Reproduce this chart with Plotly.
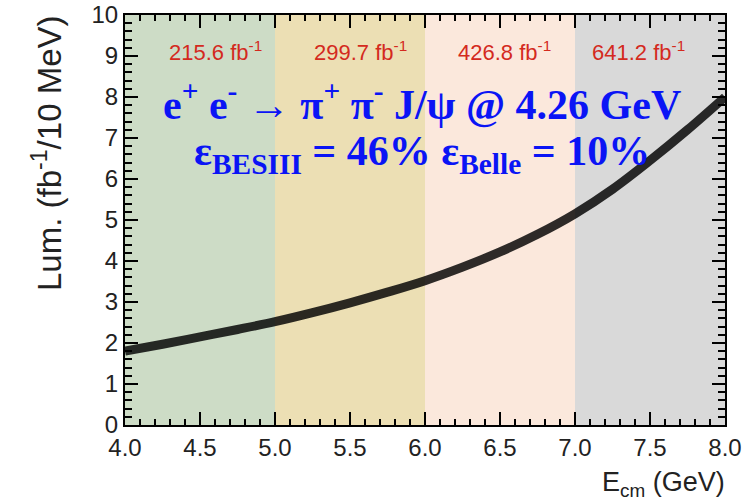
import plotly.graph_objects as go

# Data
ecm = [4.0, 4.25, 4.5, 4.75, 5.0, 5.25, 5.5, 5.75, 6.0, 6.25, 6.5, 6.75, 7.0, 7.25, 7.5, 7.75, 8.0]
lumi = [1.80, 1.97, 2.15, 2.33, 2.52, 2.74, 2.98, 3.24, 3.52, 3.85, 4.22, 4.65, 5.15, 5.75, 6.45, 7.20, 8.0]
band_edges = [4.0, 5.0, 6.0, 7.0, 8.0]
band_labels = ["215.6 fb<sup>-1</sup>", "299.7 fb<sup>-1</sup>", "426.8 fb<sup>-1</sup>", "641.2 fb<sup>-1</sup>"]
x_ticks = [4.0, 4.5, 5.0, 5.5, 6.0, 6.5, 7.0, 7.5, 8.0]
y_ticks = list(range(0, 11))

band_colors = ["#cddcc6", "#ecdfb4", "#fbe8dc", "#d9d9d9"]
label_x = [4.6, 5.57, 6.53, 7.42]

fig = go.Figure()
fig.add_trace(go.Scatter(
    x=ecm, y=lumi, mode="lines",
    line=dict(color="rgba(0,0,0,0.82)", width=9, shape="spline"),
    showlegend=False, hoverinfo="skip"))

for i in range(len(band_labels)):
    fig.add_shape(type="rect", xref="x", yref="paper",
                  x0=band_edges[i], x1=band_edges[i + 1], y0=0, y1=1,
                  fillcolor=band_colors[i], line=dict(width=0), layer="below")
    fig.add_annotation(x=label_x[i], y=9.12, xref="x", yref="y",
                       xanchor="center", yanchor="middle",
                       text=band_labels[i], showarrow=False,
                       font=dict(family="Liberation Sans", size=22, color="#d42a1e"))

fig.add_annotation(x=0.495, y=0.79, xref="paper", yref="paper", xanchor="center", yanchor="middle",
                   text="e<sup>+</sup> e<sup>-</sup> \u2192 \u03c0<sup>+</sup> \u03c0<sup>-</sup> J/\u03c8 @ 4.26 GeV",
                   showarrow=False,
                   font=dict(family="Liberation Serif", size=42, color="#0a14f5", weight="bold"))
fig.add_annotation(x=0.495, y=0.662, xref="paper", yref="paper", xanchor="center", yanchor="middle",
                   text="\u03b5<sub>BESIII</sub> = 46% \u03b5<sub>Belle</sub> = 10%",
                   showarrow=False,
                   font=dict(family="Liberation Serif", size=42, color="#0a14f5", weight="bold"))

# axis titles
fig.add_annotation(x=1.003, y=-0.097, xref="paper", yref="paper", xanchor="right", yanchor="top",
                   text="E<sub>cm</sub> (GeV)", showarrow=False,
                   font=dict(family="Liberation Sans", size=27, color="#222"))
fig.add_annotation(x=-0.13, y=0.661, xref="paper", yref="paper", xanchor="center", yanchor="middle",
                   textangle=-90, text="Lum. (fb<sup>-1</sup>/10 MeV)", showarrow=False,
                   font=dict(family="Liberation Sans", size=33, color="#222"))

axis_font = dict(family="Liberation Sans", size=24, color="#222")
fig.update_xaxes(range=[4.0, 8.0], tickvals=x_ticks, ticktext=[f"{v:.1f}" for v in x_ticks],
                 ticks="inside", ticklen=13, tickwidth=2, tickcolor="black",
                 minor=dict(dtick=0.1, ticks="inside", ticklen=6, tickwidth=2, tickcolor="black"),
                 showline=True, linecolor="black", linewidth=2, mirror="ticks",
                 showgrid=False, zeroline=False, tickfont=axis_font, automargin=False)
fig.update_yaxes(range=[0, 10], tickvals=y_ticks,
                 ticks="inside", ticklen=13, tickwidth=2, tickcolor="black",
                 minor=dict(dtick=0.2, ticks="inside", ticklen=7, tickwidth=2, tickcolor="black"),
                 showline=True, linecolor="black", linewidth=2, mirror="ticks",
                 showgrid=False, zeroline=False, tickfont=axis_font, automargin=False)

fig.update_layout(width=754, height=501, margin=dict(l=125, r=29, t=15, b=76),
                  paper_bgcolor="white", plot_bgcolor="white")
fig.write_html("out.html")
